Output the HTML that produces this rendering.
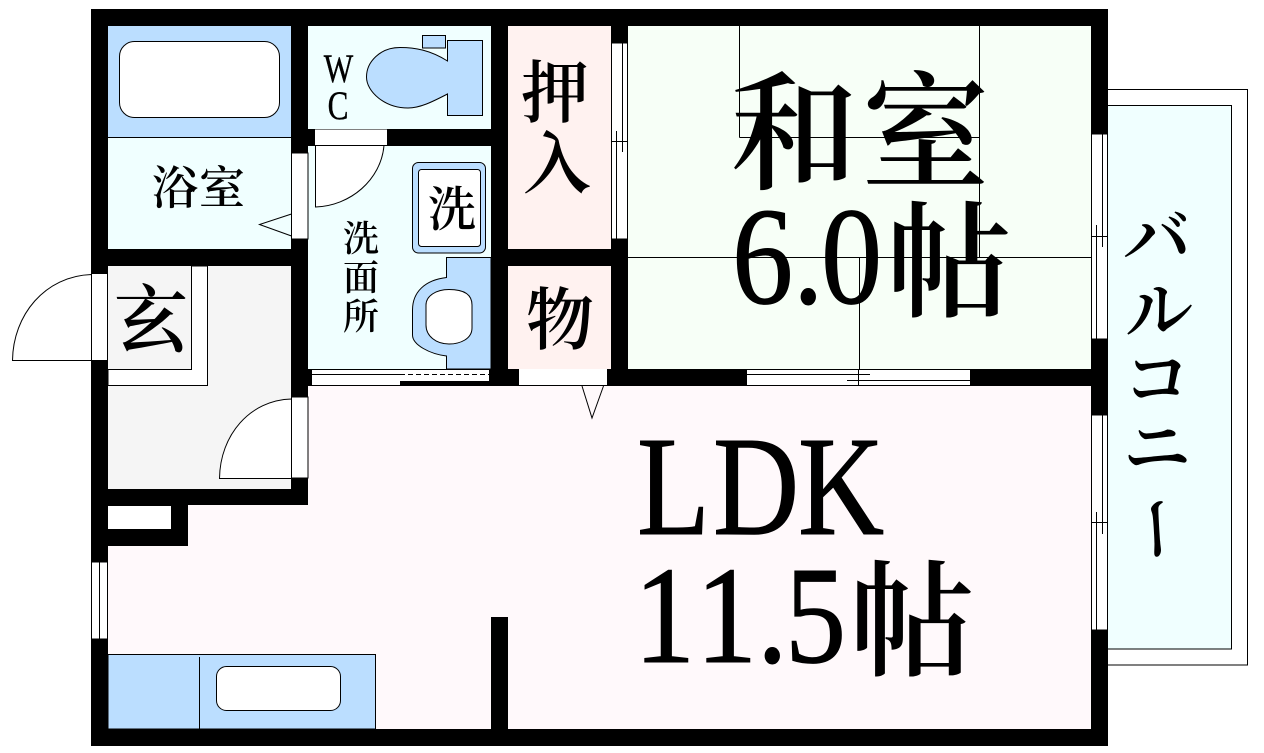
<!DOCTYPE html>
<html><head><meta charset="utf-8"><style>
html,body{margin:0;padding:0;background:#fff;width:1264px;height:753px;overflow:hidden}
svg{display:block}
.j{font-family:"Liberation Serif","Noto Serif CJK SC",serif;font-weight:600;text-anchor:middle;fill:#000}
.l{font-family:"Liberation Serif",serif;fill:#000;stroke:#000;stroke-width:1}
.n{fill:none;stroke:#000;stroke-width:1}
</style></head><body>
<svg width="1264" height="753" viewBox="0 0 1264 753" xmlns="http://www.w3.org/2000/svg">
<!-- balcony -->
<rect x="1100" y="89.5" width="147.5" height="575.5" fill="#fff" stroke="#000"/>
<rect x="1100" y="105.5" width="131.5" height="543.5" fill="#f0ffff" stroke="#000"/>
<!-- walls base -->
<rect x="91" y="9" width="1017" height="737" fill="#000"/>
<!-- rooms -->
<rect x="108" y="26" width="183" height="111" fill="#bbdeff"/>
<rect x="108" y="137" width="183" height="112" fill="#f0ffff"/>
<rect x="308" y="26" width="183" height="103" fill="#f0ffff"/>
<rect x="308" y="146" width="183" height="223" fill="#f0ffff"/>
<rect x="508" y="26" width="103" height="223" fill="#fff2f0"/>
<rect x="508" y="266" width="103" height="103" fill="#fff2f0"/>
<rect x="628" y="26" width="463" height="343" fill="#f7fff7"/>
<rect x="108" y="266" width="183" height="223" fill="#f5f5f5"/>
<rect x="308" y="386" width="783" height="343" fill="#fff9fb"/>
<rect x="188" y="505" width="120" height="224" fill="#fff9fb"/>
<rect x="108" y="546" width="80" height="183" fill="#fff9fb"/>
<rect x="108" y="506" width="63" height="23" fill="#fff"/>
<!-- partition stub -->
<rect x="491" y="617" width="17" height="112" fill="#000"/>
<!-- bath -->
<line class="n" x1="108" y1="137.5" x2="291" y2="137.5"/>
<rect x="119.5" y="41.5" width="160" height="76" rx="15" fill="#fff" stroke="#000"/>
<!-- bath door -->
<rect x="291.5" y="153" width="16.5" height="86" fill="#fff" stroke="#000"/>
<path class="n" d="M291.5 214 L259.5 224.5 L291.5 236" fill="#fff"/>
<!-- entrance -->
<rect x="91.5" y="273.5" width="16" height="87" fill="#fff" stroke="#000"/>
<path d="M91.5 274.5 C45 276 13 315 12.5 360.5 L91.5 360.5 Z" fill="#fff" stroke="#000"/>
<path d="M191.5 266 V369.5 H108 V385.5 H207.5 V266 Z" fill="#fff" stroke="#000"/>
<!-- entrance inner door -->
<rect x="291.5" y="397" width="16.5" height="81" fill="#fff" stroke="#000"/>
<path d="M291.5 399 C250 400 220 435 219.5 478.5 L291.5 478.5 Z" fill="#fff" stroke="#000"/>
<!-- WC door -->
<rect x="315" y="129.5" width="72" height="16" fill="#fff"/>
<path d="M315.5 145.5 H384 C381 180 350 206 315.5 207 Z" fill="#fff" stroke="#000"/>
<line class="n" x1="315" y1="145.5" x2="387" y2="145.5"/>
<!-- toilet -->
<rect x="422.5" y="35.5" width="23" height="12.5" fill="#bbdeff" stroke="#000"/>
<path d="M447.5 61 C430 50 415 47.5 400 47.5 C380 47.5 366.5 62 366.5 77 C366.5 92 385 108 408 108 C420 108 432 102 447.5 94 V115.5 H482.5 V40.5 H447.5 Z" fill="#bbdeff" stroke="#000"/>
<!-- washing machine -->
<rect x="412.5" y="162.5" width="73" height="90.5" rx="6" fill="#bbdeff" stroke="#000"/>
<rect x="418.5" y="169.5" width="62" height="77" rx="3" fill="#fff" stroke="#000"/>
<!-- basin -->
<path d="M491 257.5 H446.5 V277.5 C425 280 412.5 292 412.5 310 V335 C412.5 345 430 354 446.5 356 V369 H491 Z" fill="#bbdeff" stroke="#000"/>
<path d="M449 289.5 C465 289.5 472 295 472 305 V328 C472 339 460 344 449 344 C436 344 426 336 426 325 V305 C426 296 436 289.5 449 289.5 Z" fill="#fff" stroke="#000"/>
<!-- washroom sliding door -->
<rect x="312" y="369.5" width="177" height="15.5" fill="#fff"/>
<line class="n" x1="312" y1="369.5" x2="489" y2="369.5"/>
<line class="n" x1="312" y1="374.5" x2="400" y2="374.5"/>
<line class="n" x1="400" y1="374.5" x2="489" y2="374.5" stroke-dasharray="5 3"/>
<line class="n" x1="308" y1="385.5" x2="400" y2="385.5"/>
<rect x="400" y="381" width="91" height="5" fill="#000"/>
<!-- closet window -->
<rect x="611.5" y="43" width="16" height="196" fill="#fff" stroke="#000"/>
<line class="n" x1="616.5" y1="131" x2="616.5" y2="239"/>
<line class="n" x1="622.5" y1="43" x2="622.5" y2="152"/>
<line class="n" x1="611.5" y1="141.5" x2="627.5" y2="141.5"/>
<!-- storage door -->
<rect x="519" y="369" width="88" height="16.5" fill="#fff"/>
<line class="n" x1="519" y1="385.5" x2="607" y2="385.5"/>
<path class="n" d="M582 386 L592 418 L603.5 386" fill="#fff"/>
<!-- tatami -->
<path class="n" d="M739.5 26 V137.5 M739.5 137.5 H979.5 M979.5 26 V257.5 M628 257.5 H1091 M859.5 257.5 V369"/>
<!-- washitsu door -->
<rect x="747" y="369" width="223" height="17" fill="#fff"/>
<path class="n" d="M747 369.5 H970 M747 374.5 H870 M847 380.5 H970 M747 385.5 H970 M858.5 369 V386"/>
<!-- right windows -->
<rect x="1091.5" y="134" width="16" height="205" fill="#fff" stroke="#000"/>
<path class="n" d="M1096.5 225 V339 M1102.5 134 V247 M1091.5 236.5 H1108"/>
<rect x="1091.5" y="415" width="16" height="215" fill="#fff" stroke="#000"/>
<path class="n" d="M1096.5 512 V630 M1102.5 415 V534 M1091.5 522.5 H1108"/>
<!-- left window -->
<rect x="91.5" y="562" width="16" height="77" fill="#fff" stroke="#000"/>
<line class="n" x1="99.5" y1="562" x2="99.5" y2="639"/>
<!-- kitchen -->
<rect x="108" y="654.5" width="267.5" height="74.5" fill="#bbdeff" stroke="#000"/>
<line class="n" x1="199.5" y1="657" x2="199.5" y2="729"/>
<rect x="216.5" y="666.5" width="124" height="44" rx="10" fill="#fff" stroke="#000"/>
<rect x="108" y="729" width="268" height="17" fill="#000"/>
<!-- labels -->
<text class="j" x="175" y="204" font-size="46">浴</text>
<text class="j" x="222" y="204" font-size="46">室</text>
<text class="j" x="151" y="346" font-size="74">玄</text>
<text class="j" x="555" y="117" font-size="68">押</text>
<text class="j" x="557" y="188" font-size="68">入</text>
<text class="j" x="560" y="344" font-size="68">物</text>
<text class="j" x="452" y="226" font-size="48">洗</text>
<text class="j" x="361" y="251" font-size="36">洗</text>
<text class="j" x="361" y="290" font-size="36">面</text>
<text class="j" x="361" y="329" font-size="36">所</text>
<text class="l" transform="translate(338.5 82) scale(.78 1)" text-anchor="middle" font-size="40" style="stroke-width:.4">W</text>
<text class="l" transform="translate(338 119) scale(.78 1)" text-anchor="middle" font-size="40" style="stroke-width:.4">C</text>
<text class="j" x="794.5" y="179" font-size="128">和</text>
<text class="j" x="925.5" y="178" font-size="128">室</text>
<text class="l" transform="translate(732 303) scale(.88 1)" font-size="139">6</text>
<text class="l" transform="translate(793 303) scale(.88 1)" font-size="139">.</text>
<text class="l" transform="translate(821 303) scale(.88 1)" font-size="139">0</text>
<text class="j" x="949" y="307" font-size="126">帖</text>
<text class="l" transform="translate(637 534) scale(.84 1)" font-size="142">L</text>
<text class="l" transform="translate(713 534) scale(.84 1)" font-size="142">D</text>
<text class="l" transform="translate(798 534) scale(.84 1)" font-size="142">K</text>
<text class="l" transform="translate(634 662) scale(.88 1)" font-size="139">1</text>
<text class="l" transform="translate(696 662) scale(.88 1)" font-size="139">1</text>
<text class="l" transform="translate(757 662) scale(.88 1)" font-size="139">.</text>
<text class="l" transform="translate(785 662) scale(.88 1)" font-size="139">5</text>
<text class="j" x="912" y="666" font-size="126">帖</text>
<text class="j" x="1157" y="262" font-size="68">バ</text>
<text class="j" x="1159" y="335" font-size="68">ル</text>
<text class="j" x="1157" y="403" font-size="68">コ</text>
<text class="j" x="1157" y="472" font-size="68">ニ</text>
<text class="j" transform="translate(1155.5 529) rotate(90) translate(0 23)" font-size="68">ー</text>
</svg>
</body></html>
